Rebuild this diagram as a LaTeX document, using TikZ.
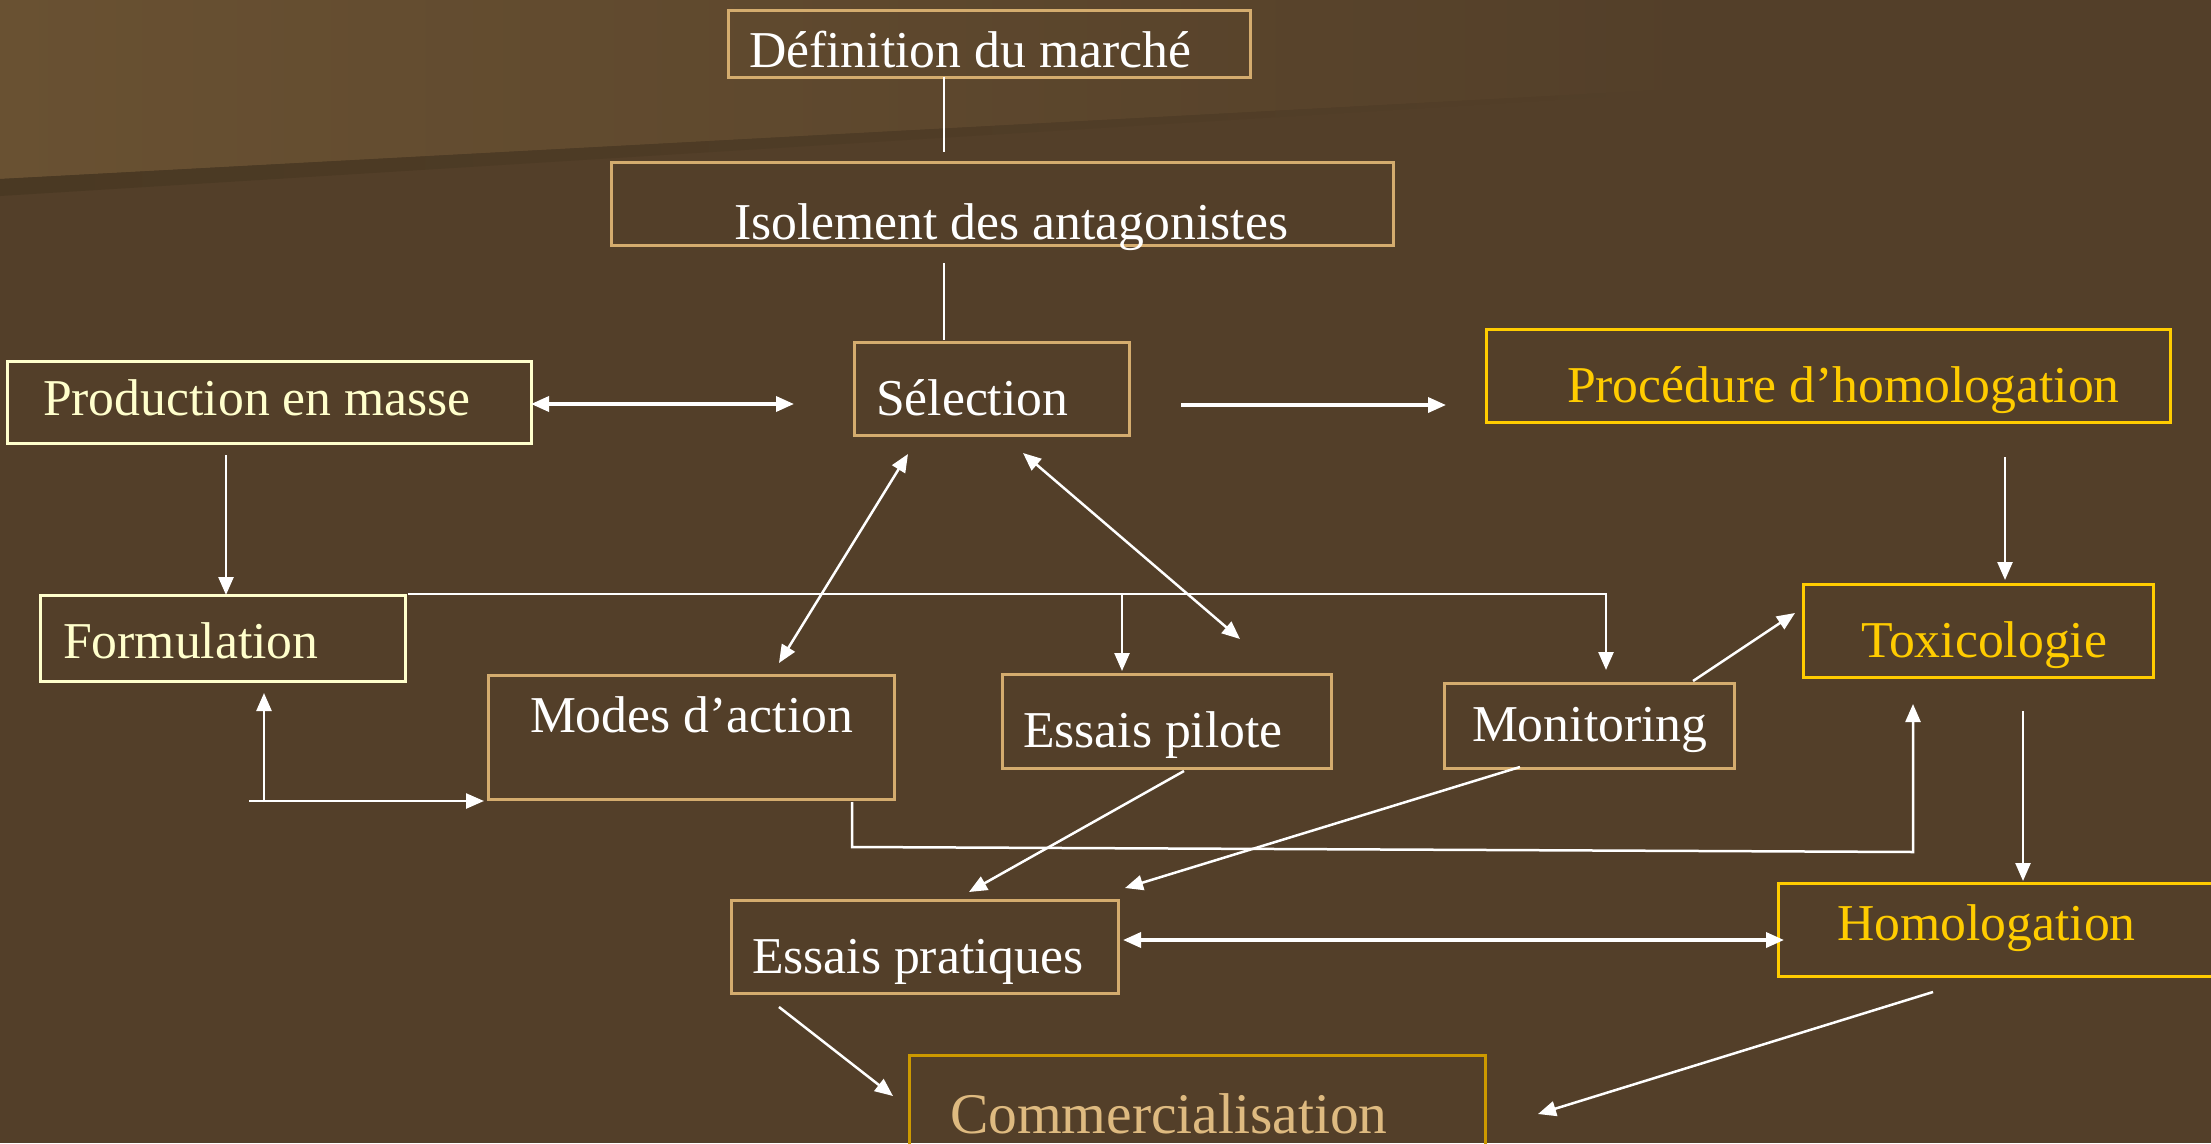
\documentclass[tikz,border=0pt]{standalone}
\usepackage{fontspec}
\setmainfont{Liberation Serif}
\usetikzlibrary{arrows.meta,calc}

\definecolor{fond}{RGB}{83,63,41}
\definecolor{fondclair}{RGB}{105,81,50}
\definecolor{ombre}{RGB}{74,57,35}
\definecolor{brun}{RGB}{212,172,110}
\definecolor{paille}{RGB}{255,255,204}
\definecolor{or}{RGB}{255,204,0}
\definecolor{ocre}{RGB}{204,153,0}
\definecolor{sable}{RGB}{222,186,128}

\begin{document}
\begin{tikzpicture}[x=1pt,y=-1pt,
  cadre/.style={draw,rectangle,line width=3pt,anchor=north west,inner sep=0pt,outer sep=0pt,font=\fontsize{51.7pt}{62pt}\selectfont,execute at begin node={\spaceskip=0pt\xspaceskip=0pt\relax}},
  trait/.style={draw=white,line width=2.5pt},
  fleche/.style={trait,-{Triangle[length=18pt,width=15pt]}},
  fleches/.style={trait,{Triangle[length=18pt,width=15pt]}-{Triangle[length=18pt,width=15pt]}},
  epais/.style={line width=3.5pt}]

\useasboundingbox (0,0) rectangle (2211,1143);
\fill[fond] (0,0) rectangle (2211,1143);
\shade[left color=fondclair,right color=fond] (0,0) -- (1700,0) -- (1700,88) -- (0,179) -- cycle;
\shade[left color=ombre,right color=fond] (0,179) -- (1700,88) -- (1700,91) -- (0,196) -- cycle;

\node[cadre,draw=brun,text=white,text width=522pt,text height=57pt,text depth=10pt] (def) at (728,10) {\hspace*{21pt}Définition du marché};
\node[cadre,draw=brun,text=white,text width=782pt,text height=77pt,text depth=6pt] (iso) at (611,162) {\hspace*{123pt}Isolement des antagonistes};
\node[cadre,draw=brun,text=white,text width=275pt,text height=73pt,text depth=20pt] (sel) at (854,342) {\hspace*{22pt}Sélection};
\node[cadre,draw=paille,text=paille,text width=524pt,text height=54pt,text depth=28pt] (prod) at (7,361) {\hspace*{36pt}Production en masse};
\node[cadre,draw=or,text=or,text width=684pt,text height=73pt,text depth=20pt] (proc) at (1486,329) {\hspace*{81pt}Procédure d’homologation};

\node[cadre,draw=paille,text=paille,text width=365pt,text height=63pt,text depth=23pt] (form) at (40,595) {\hspace*{23pt}Formulation};
\node[cadre,draw=brun,text=white,text width=406pt,text height=57pt,text depth=67pt] (modes) at (488,675) {\hspace*{42pt}Modes d’action};
\node[cadre,draw=brun,text=white,text width=329pt,text height=73pt,text depth=21pt] (pilote) at (1002,674) {\hspace*{21pt}Essais pilote};
\node[cadre,draw=brun,text=white,text width=290pt,text height=58pt,text depth=27pt] (monit) at (1444,683) {\hspace*{28pt}Monitoring};
\node[cadre,draw=or,text=or,text width=350pt,text height=73pt,text depth=20pt] (toxi) at (1803,584) {\hspace*{58pt}Toxicologie};

\node[cadre,draw=brun,text=white,text width=387pt,text height=73pt,text depth=20pt] (pratiq) at (731,900) {\hspace*{21pt}Essais pratiques};
\node[cadre,draw=or,text=or,text width=440pt,text height=57pt,text depth=36pt] (homol) at (1778,883) {\hspace*{59pt}Homologation};
\node[cadre,draw=ocre,text=sable,text width=576pt,text height=78pt,text depth=42pt,font=\fontsize{57.5pt}{68pt}\selectfont] (comm) at (909,1055) {\hspace*{41pt}Commercialisation};

\draw[trait] ($(def.south)+(-45,0)$) -- ($(iso.north)+(-58,-10)$);
\draw[trait] ($(iso.south)+(-58,18)$) -- ($(sel.north)+(-47.5,-2)$);
\draw[fleches,epais] ($(prod.east)+(0,2)$) -- ($(sel.west)+(-60,15.5)$);
\draw[fleche,epais] ($(sel.east)+(52,16.5)$) -- ($(proc.west)+(-40,29.5)$);
\draw[fleche] ($(prod.south)+(-43,12)$) -- ($(form.north)+(3.5,0)$);

\draw[fleche] ($(form.north east)+(3,-1)$) -| ($(monit.north)+(17,-13)$);
\draw[fleche] ($(pilote.north)+(-44.5,-80)$) -- ($(pilote.north)+(-44.5,-3)$);
\draw[fleches] ($(sel.south)+(-83.5,19)$) -- ($(modes.north)+(88,-12)$);
\draw[fleches] ($(sel.south)+(31.5,18)$) -- ($(pilote.north)+(73.5,-35)$);

\draw[fleche] ($(form.south)+(41.5,121)$) -- ($(form.south)+(41.5,12)$);
\draw[fleche] ($(form.south)+(26.5,120)$) -- ($(modes.south west)+(-4,2)$);
\draw[fleche] ($(modes.south east)+(-42,3)$) -- ++(0,45) -- ($(toxi.south west)+(110,175)$) -- ($(toxi.south west)+(110,27)$);

\draw[fleche] ($(monit.north east)+(-41,-2)$) -- ($(toxi.west)+(-8,-17.5)$);
\draw[fleche] ($(proc.south)+(177,35)$) -- ($(toxi.north)+(27,-4)$);
\draw[fleche] ($(toxi.south)+(45,34)$) -- ($(homol.north)+(25,-2)$);

\draw[fleche] ($(pilote.south)+(17.5,3)$) -- ($(pratiq.north)+(44.5,-8)$);
\draw[fleche] ($(monit.south)+(-69,-1)$) -- ($(pratiq.north east)+(7,-12)$);
\draw[fleches,epais] ($(pratiq.east)+(5,-6.5)$) -- ($(homol.west)+(6,10.5)$);
\draw[fleche] ($(pratiq.south west)+(48,14)$) -- ($(comm.north west)+(-16,41)$);
\draw[fleche] ($(homol.south)+(-65,16)$) -- ($(comm.north east)+(53,59)$);

\end{tikzpicture}
\end{document}
